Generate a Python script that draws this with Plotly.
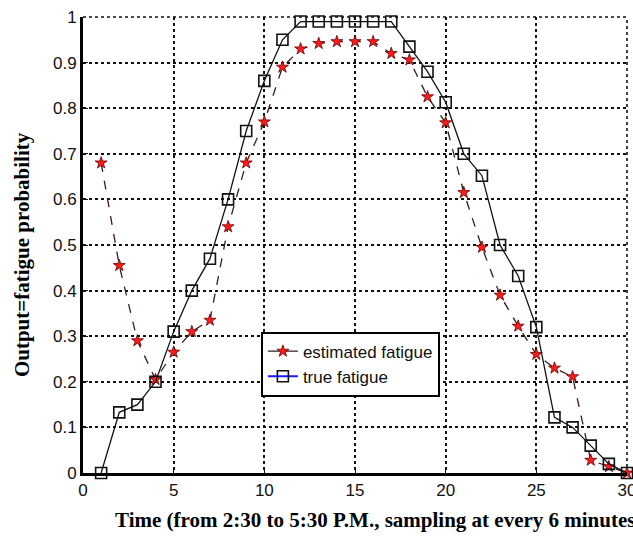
import plotly.graph_objects as go

time_idx = list(range(1, 31))
estimated = [0.68, 0.455, 0.29, 0.205, 0.265, 0.31, 0.335, 0.54, 0.68, 0.77,
             0.89, 0.93, 0.942, 0.946, 0.946, 0.946, 0.92, 0.906, 0.825, 0.768,
             0.615, 0.495, 0.39, 0.322, 0.26, 0.23, 0.211, 0.028, 0.014, 0.0]
true_vals = [0.0, 0.133, 0.15, 0.2, 0.31, 0.40, 0.47, 0.60, 0.75, 0.86,
             0.95, 0.99, 0.99, 0.99, 0.99, 0.99, 0.99, 0.935, 0.88, 0.813,
             0.70, 0.652, 0.50, 0.432, 0.32, 0.122, 0.10, 0.06, 0.02, 0.0]
x_ticks = [0, 5, 10, 15, 20, 25, 30]
y_ticks = [0, 0.1, 0.2, 0.3, 0.4, 0.5, 0.6, 0.7, 0.8, 0.9, 1]
y_tick_text = ["0", "0.1", "0.2", "0.3", "0.4", "0.5", "0.6", "0.7", "0.8", "0.9", "1"]

fig = go.Figure()

fig.add_trace(go.Scatter(
    x=time_idx, y=estimated, mode="lines+markers", showlegend=False, cliponaxis=False,
    line=dict(color="#3a1a1a", width=1.3, dash="dash"),
    marker=dict(symbol="star", size=9, color="#ff1a1a", line=dict(color="#600", width=0.8)),
))
fig.add_trace(go.Scatter(
    x=time_idx, y=true_vals, mode="lines+markers", showlegend=False, cliponaxis=False,
    line=dict(color="#111", width=1.3),
    marker=dict(symbol="square-open", size=11, color="#111", line=dict(width=1.6)),
))

# legend entries
fig.add_trace(go.Scatter(
    x=[None], y=[None], mode="lines+markers", name="estimated fatigue",
    line=dict(color="#222", width=1.3),
    marker=dict(symbol="star", size=9, color="#ff1a1a", line=dict(color="#600", width=0.8)),
))
fig.add_trace(go.Scatter(
    x=[None], y=[None], mode="lines+markers", name="true fatigue",
    line=dict(color="#1a1aff", width=2),
    marker=dict(symbol="square-open", size=11, color="#111", line=dict(width=1.6)),
))

axis_common = dict(
    showgrid=True, gridcolor="#111", griddash="dot", gridwidth=1.6,
    zeroline=False, ticks="inside", ticklen=5, tickwidth=1.2, tickcolor="#111",
    showline=True, linecolor="#000", linewidth=3,
    tickfont=dict(family="Liberation Sans, Arial", size=17, color="#111"),
    ticklabeloverflow="allow", automargin=False,
)

fig.update_layout(
    width=633, height=538,
    margin=dict(l=83, r=6, t=17, b=65, autoexpand=False),
    paper_bgcolor="white", plot_bgcolor="white",
    xaxis=dict(range=[0, 30], tickvals=x_ticks, **axis_common),
    yaxis=dict(range=[0, 1], tickvals=y_ticks, ticktext=y_tick_text, **axis_common),
    legend=dict(
        x=0.327, y=0.31, xanchor="left", yanchor="top",
        bordercolor="#000", borderwidth=2, bgcolor="white",
        font=dict(family="Liberation Sans, Arial", size=17, color="#111"),
        tracegroupgap=0, itemwidth=30,
    ),
    showlegend=True,
    shapes=[
        dict(type="line", xref="paper", yref="paper", x0=0, x1=1, y0=1, y1=1,
             line=dict(color="#111", width=1.6, dash="dot"), layer="below"),
        dict(type="line", xref="paper", yref="paper", x0=1, x1=1, y0=0, y1=1,
             line=dict(color="#111", width=1.6, dash="dot"), layer="below"),
    ],
    annotations=[
        dict(text="Time (from 2:30 to 5:30 P.M., sampling at every 6 minutes",
             xref="paper", yref="paper", x=(113 - 83) / 544, y=-0.072,
             xanchor="left", yanchor="top", showarrow=False,
             font=dict(family="Liberation Serif, Times New Roman", size=21, color="#000", weight="bold")),
        dict(text="Output=fatigue probability",
             xref="paper", yref="paper", x=-0.112, y=0.478,
             xanchor="center", yanchor="middle", textangle=-90, showarrow=False,
             font=dict(family="Liberation Serif, Times New Roman", size=21, color="#000", weight="bold")),
    ],
)

fig.write_html("out.html", config={"displayModeBar": False},
               post_script="document.body.style.margin='0';document.body.style.overflow='hidden';")
